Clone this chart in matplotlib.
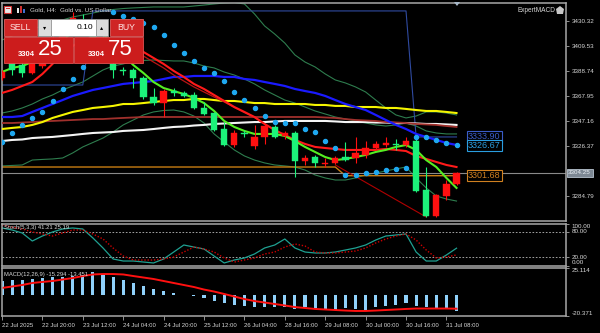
import matplotlib
matplotlib.use("Agg")
import matplotlib.pyplot as plt
from matplotlib.patches import Rectangle, Polygon
from matplotlib.transforms import blended_transform_factory

plt.rcParams['font.family'] = ['Liberation Sans', 'DejaVu Sans']

opens = [3382.9, 3396.2, 3393.7, 3387.1, 3392.9, 3406.2, 3416.2, 3427.0, 3431.2, 3424.5,
         3414.5, 3394.5, 3389.6, 3389.6, 3382.9, 3367.1, 3362.1, 3372.1, 3370.4, 3368.8,
         3357.9, 3353.8, 3340.5, 3327.2, 3337.1, 3326.4, 3333.8, 3342.1, 3334.6, 3337.1,
         3313.9, 3317.2, 3311.8, 3312.2, 3317.2, 3316.3, 3318.8, 3324.7, 3327.2, 3328.4,
         3327.2, 3330.5, 3289.7, 3268.1, 3284.7, 3294.7]
closes = [3387.9, 3389.6, 3387.1, 3397.9, 3406.2, 3416.2, 3427.0, 3432.8, 3424.5, 3414.5,
          3397.9, 3389.6, 3389.1, 3382.9, 3367.1, 3362.1, 3372.1, 3370.4, 3367.9, 3357.9,
          3353.0, 3339.6, 3327.2, 3337.1, 3336.3, 3333.8, 3343.0, 3333.8, 3337.1, 3313.9,
          3316.3, 3312.2, 3312.6, 3316.3, 3314.7, 3320.5, 3324.7, 3328.0, 3328.8, 3327.6,
          3330.5, 3288.9, 3268.1, 3285.6, 3294.7, 3304.25]
highs = [3389.6, 3399.5, 3397.9, 3402.0, 3410.4, 3418.7, 3431.2, 3437.8, 3436.1, 3429.5,
         3418.7, 3397.9, 3392.1, 3391.2, 3384.6, 3374.6, 3373.7, 3374.6, 3372.1, 3371.3,
         3362.9, 3354.6, 3346.3, 3339.6, 3339.6, 3343.8, 3344.6, 3343.8, 3338.8, 3338.8,
         3318.8, 3318.8, 3316.3, 3318.0, 3329.7, 3333.8, 3330.5, 3330.5, 3333.8, 3332.2,
         3333.8, 3333.8, 3308.9, 3286.4, 3298.0, 3304.7]
lows = [3381.2, 3385.4, 3383.7, 3386.2, 3391.2, 3404.5, 3412.9, 3422.8, 3421.2, 3410.4,
        3396.2, 3382.9, 3385.4, 3374.6, 3365.4, 3360.4, 3350.5, 3367.9, 3367.1, 3357.1,
        3352.1, 3338.8, 3326.3, 3325.5, 3333.8, 3323.8, 3328.0, 3333.0, 3332.2, 3300.5,
        3310.5, 3308.9, 3308.9, 3311.4, 3313.9, 3312.2, 3316.3, 3323.0, 3325.5, 3323.0,
        3325.5, 3288.1, 3267.3, 3267.3, 3281.4, 3293.9]

# moyennes mobiles
ma_fast = [3387.9, 3391.3, 3392.9, 3396.2, 3401.2, 3407.9, 3414.5, 3421.2, 3424.5, 3424.5,
           3419.5, 3410.4, 3402.1, 3393.7, 3387.1, 3379.6, 3374.6, 3372.1, 3369.6, 3366.3,
           3362.1, 3355.5, 3347.2, 3342.2, 3338.9, 3336.4, 3336.4, 3336.4, 3334.7, 3330.5,
           3325.6, 3321.4, 3317.2, 3314.7, 3315.6, 3317.2, 3318.9, 3321.4, 3323.1, 3325.6,
           3327.2, 3323.1, 3314.7, 3308.9, 3299.8, 3291.5]
ma_red = [3370.5, 3373.0, 3376.3, 3379.6, 3386.3, 3394.6, 3402.9, 3409.5, 3414.5, 3416.2,
          3416.2, 3414.5, 3412.0, 3408.7, 3404.6, 3399.6, 3394.6, 3388.8, 3383.8, 3378.0,
          3373.8, 3368.8, 3363.8, 3358.8, 3354.7, 3350.5, 3344.7, 3339.7, 3335.5, 3331.4,
          3328.1, 3325.6, 3324.7, 3323.9, 3323.1, 3323.1, 3323.1, 3323.1, 3323.9, 3323.1,
          3322.2, 3318.1, 3315.6, 3313.1, 3310.6, 3308.9]
ma_red2 = [3415.4, 3414.5, 3412.0, 3408.7, 3405.4, 3401.2, 3396.2, 3391.3, 3385.4, 3380.4,
           3375.5, 3371.3, 3367.1, 3363.0, 3358.4, 3354.2, 3350.1, 3344.7]  # barres 9 a 26
ma_blue = [3350.5, 3350.5, 3351.3, 3354.7, 3358.0, 3361.3, 3364.6, 3368.0, 3370.5, 3373.0,
           3374.6, 3376.3, 3378.0, 3378.8, 3379.6, 3380.4, 3382.1, 3383.8, 3383.8, 3384.6,
           3384.6, 3384.6, 3383.8, 3383.8, 3382.1, 3381.3, 3379.6, 3378.0, 3376.3, 3373.8,
           3372.1, 3370.5, 3368.0, 3364.6, 3361.3, 3358.8, 3356.3, 3352.2, 3348.0, 3343.9,
           3340.5, 3336.4, 3333.9, 3331.4, 3328.9, 3327.2]
ma_yellow = [3340.5, 3341.4, 3342.2, 3343.9, 3346.3, 3349.7, 3352.2, 3354.7, 3356.3, 3358.0,
             3358.8, 3359.7, 3361.3, 3361.3, 3362.1, 3363.0, 3363.8, 3364.6, 3364.6, 3365.5,
             3365.5, 3364.6, 3363.8, 3363.8, 3363.0, 3362.1, 3362.1, 3361.3, 3361.3, 3361.3,
             3361.3, 3360.5, 3360.5, 3359.7, 3359.7, 3358.8, 3358.8, 3358.8, 3358.0, 3358.0,
             3357.2, 3356.3, 3355.5, 3355.5, 3354.7, 3353.8]
ma_brown = [3345.5, 3345.5, 3345.9, 3346.3, 3346.8, 3347.2, 3347.6, 3348.0, 3348.4, 3348.8,
            3348.8, 3349.3, 3349.7, 3350.1, 3350.5, 3350.5, 3350.5, 3350.5, 3350.5, 3350.5,
            3350.5, 3350.5, 3350.5, 3350.5, 3350.5, 3350.5, 3350.5, 3350.5, 3350.5, 3350.5,
            3350.5, 3350.5, 3350.1, 3349.7, 3348.8, 3348.0, 3347.6, 3347.2, 3346.3, 3345.9,
            3345.5, 3344.7, 3344.3, 3343.9, 3343.0, 3342.2]
ma_white = [3330.5, 3331.4, 3331.8, 3333.0, 3333.5, 3333.9, 3334.7, 3335.5, 3336.4, 3337.2,
            3337.6, 3338.0, 3338.9, 3339.3, 3339.7, 3340.5, 3341.4, 3342.2, 3342.6, 3343.4,
            3343.9, 3344.7, 3345.1, 3345.5, 3345.9, 3346.3, 3346.3, 3346.8, 3347.2, 3347.2,
            3347.2, 3347.2, 3347.2, 3346.8, 3346.3, 3346.3, 3346.3, 3345.9, 3345.9, 3345.5,
            3345.5, 3345.1, 3344.7, 3344.7, 3344.3, 3343.9]

# enveloppes vert fonce
band_up = [3414.5, 3417.9, 3421.2, 3423.7, 3426.2, 3428.7, 3431.2, 3433.7, 3435.3, 3437.0,
           3438.7, 3439.9, 3440.7, 3441.2, 3441.6, 3442.0, 3442.0, 3442.0, 3442.0, 3442.8,
           3443.6, 3444.5, 3445.3, 3445.7, 3444.5, 3436.2, 3426.2, 3419.5, 3412.0, 3402.1,
           3396.2, 3392.1, 3386.3, 3381.3, 3378.8, 3375.5, 3371.3, 3364.6, 3358.0, 3352.2,
           3349.7, 3351.3, 3354.7, 3354.7, 3353.8, 3352.2]
band_mid = [3353.8, 3355.5, 3358.0, 3361.3, 3365.5, 3368.8, 3373.0, 3376.3, 3379.6, 3384.6,
            3389.6, 3392.9, 3394.6, 3397.1, 3397.5, 3397.9, 3397.5, 3397.1, 3397.1, 3395.4,
            3392.9, 3391.3, 3387.9, 3385.4, 3382.1, 3378.0, 3373.0, 3368.8, 3364.6, 3362.1,
            3358.8, 3355.5, 3353.0, 3350.5, 3348.8, 3347.2, 3345.5, 3343.9, 3343.0, 3343.9,
            3345.5, 3343.0, 3338.9, 3337.2, 3336.4, 3336.4]
band_low = [3309.8, 3310.2, 3310.6, 3314.7, 3315.2, 3315.6, 3316.4, 3320.6, 3325.6, 3329.3,
            3333.0, 3338.0, 3343.9, 3348.0, 3352.2, 3354.7, 3355.9, 3356.3, 3354.7, 3351.3,
            3345.5, 3336.4, 3329.7, 3323.1, 3318.1, 3314.7, 3312.3, 3310.6, 3309.8, 3308.9,
            3306.4, 3302.3, 3299.8, 3298.1, 3298.1, 3299.8, 3302.3, 3303.9, 3305.6, 3307.3,
            3308.9, 3299.8, 3291.5, 3284.8, 3282.3, 3280.6]

# canal plus haut (bleu nuit), niveau orange, zigzag
channel = [3377.1] * 9 + [3438.7] * 32 + [3333.9] * 5
level_orange = [3308.9] * 34 + [3301.68] * 12
zigzag_x = [33, 42]
zigzag_y = [3310.6, 3267.3]

# Parabolic SAR
sar = [3329.6, 3337.1, 3343.8, 3349.6, 3354.6, 3363.8, 3373.7, 3382.5, 3392.0, 3399.5,
       3406.2, 3437.8, 3434.5, 3432.0, 3428.7, 3425.3, 3418.7, 3410.4, 3403.7, 3397.0,
       3391.2, 3387.1, 3380.4, 3371.3, 3364.6, 3357.9, 3351.3, 3346.3, 3345.5, 3345.5,
       3340.5, 3338.0, 3330.5, 3324.6, 3302.2, 3302.2, 3303.9, 3304.7, 3306.4, 3307.2,
       3308.0, 3333.8, 3333.8, 3331.7, 3328.8, 3327.1]

# Stochastique (5,3,3)
stoch_main = [89.3, 84.5, 77.4, 58.3, 70.2, 79.8, 86.9, 89.3, 86.9, 65.5,
              41.7, 15.5, 10.7, 10.7, 8.3, 6.0, 15.5, 32.1, 48.8, 44.0,
              39.3, 22.6, 6.0, 13.1, 17.9, 27.4, 41.7, 48.8, 63.1, 41.7,
              32.1, 29.8, 29.8, 32.1, 36.9, 41.7, 48.8, 60.7, 70.2, 72.6,
              75.0, 32.1, 10.7, 10.7, 25.0, 41.21]
stoch_signal = [96.4, 91.7, 86.9, 79.8, 75.0, 70.2, 77.4, 84.5, 84.5, 75.0,
                63.1, 41.7, 22.6, 13.1, 13.1, 13.1, 15.5, 20.2, 32.1, 44.0,
                39.3, 32.1, 17.9, 8.3, 13.1, 17.9, 27.4, 32.1, 44.0, 51.2,
                46.4, 32.1, 29.8, 29.8, 32.1, 34.5, 41.7, 53.6, 63.1, 70.2,
                75.0, 60.7, 36.9, 17.9, 20.2, 25.19]

# MACD (12,26,9)
macd_hist = [13.0, 13.7, 13.7, 14.4, 15.4, 16.3, 16.9, 17.5, 18.5, 21.3,
             18.5, 16.3, 13.7, 11.2, 8.1, 5.2, 3.3, 1.7, -0.3, -1.1,
             -3.6, -5.9, -8.3, -10.0, -10.9, -11.6, -12.1, -12.1, -12.1, -14.0,
             -12.1, -13.1, -14.7, -14.7, -13.1, -14.0, -14.7, -12.1, -10.9, -10.0,
             -8.3, -10.9, -12.1, -14.0, -14.0, -15.294]
macd_signal = [6.2, 7.6, 9.0, 10.9, 11.9, 12.8, 14.2, 15.6, 17.5, 19.0,
               19.4, 19.4, 19.0, 17.5, 16.1, 14.7, 12.8, 10.9, 9.0, 7.1,
               4.7, 2.8, 0.5, -1.9, -4.3, -6.2, -7.6, -9.0, -10.4, -11.9,
               -12.8, -13.7, -14.2, -14.7, -15.2, -15.6, -15.6, -15.2, -14.7, -14.2,
               -13.7, -13.3, -13.3, -13.3, -13.3, -13.451]

price_ticks = [3430.32, 3409.53, 3388.74, 3367.95, 3347.16, 3326.37, 3284.79]
date_ticks = [0, 4, 8, 12, 16, 20, 24, 28, 32, 36, 40, 44]
date_labels = ['22 Jul 2025', '22 Jul 20:00', '23 Jul 12:00', '24 Jul 04:00', '24 Jul 20:00',
               '25 Jul 12:00', '26 Jul 04:00', '28 Jul 16:00', '29 Jul 08:00', '30 Jul 00:00',
               '30 Jul 16:00', '31 Jul 08:00']
bid_ask = [3304.25, 3304.75]
lot = 0.10
line_labels = [3333.90, 3326.67, 3301.68]

BG = 'black'
GRID = '#a8a8a8'
TXT = '#d8d8d8'
N = len(opens)
xs = list(range(N))
XMAX = 55.84

fig = plt.figure(figsize=(6, 3.33), dpi=100, facecolor=BG)
ax = fig.add_axes([2/600, 112/333, 564/600, 218/333], facecolor=BG)
ax_st = fig.add_axes([2/600, 67.5/333, 564/600, 42/333], facecolor=BG, sharex=ax)
ax_m = fig.add_axes([2/600, 17/333, 564/600, 48/333], facecolor=BG, sharex=ax)

for a in (ax, ax_st, ax_m):
    for s in a.spines.values():
        s.set_color(GRID)
        s.set_linewidth(1.1)
    a.yaxis.tick_right()
    a.tick_params(axis='y', colors=GRID, labelcolor=TXT, labelsize=4.5, length=2.5, width=0.6, pad=1.5)
    a.tick_params(axis='x', length=0, labelbottom=False)
ax.set_xlim(0, XMAX)

# --- fenetre principale ---
ax.set_ylim(3264.0, 3445.3)
ax.set_yticks(price_ticks)
ax.set_yticklabels(['%.2f' % p for p in price_ticks])

ax.plot(xs, band_up, color='#2e7d4e', lw=0.8, zorder=2)
ax.plot(xs, band_mid, color='#2e7d4e', lw=0.8, zorder=2)
ax.plot(xs, band_low, color='#2e7d4e', lw=0.8, zorder=2)
ax.plot(xs, channel, color='#2f4aa0', lw=0.8, zorder=2)
ax.plot(xs, level_orange, color='#c87d12', lw=1.0, zorder=2)
ax.axhline(bid_ask[0], color='#8a8a8a', lw=0.8, zorder=2)
ax.plot(xs, ma_white, color='#f4f4f4', lw=1.5, zorder=3)
ax.plot(xs, ma_brown, color='#a0302c', lw=1.3, zorder=3)
ax.plot(xs, ma_yellow, color='#f5f500', lw=1.5, zorder=3)
ax.plot(xs, ma_blue, color='#1a1aff', lw=1.6, zorder=3)
ax.plot(xs[9:27], ma_red2, color='#b81414', lw=0.9, zorder=3)
ax.plot(xs, ma_red, color='#ff1a1a', lw=1.5, zorder=3)
ax.plot(zigzag_x, zigzag_y, color='#b00000', lw=0.8, zorder=3)
ax.plot(xs, ma_fast, color='#55ee22', lw=1.5, zorder=3)

for i in xs:
    up = closes[i] >= opens[i]
    col = '#ff1010' if up else '#1cf27a'
    ax.vlines(i, lows[i], highs[i], color=col, lw=0.8, zorder=4)
    bot = min(opens[i], closes[i])
    h = max(abs(closes[i] - opens[i]), 0.5)
    ax.add_patch(Rectangle((i - 0.31, bot), 0.62, h, facecolor=col, edgecolor=col, lw=0.3, zorder=5))

ax.plot(xs, sar, ls='none', marker='o', ms=2.9, mfc='#1fa8f0', mec='#1fa8f0', zorder=6)

# etiquettes des lignes a droite des bougies
lab_cols = ['#3a5cc8', '#2a9ee0', '#d08020']
for v, c in zip(line_labels, lab_cols):
    ax.text(46.15, v, '%.2f' % v, color=c, fontsize=6.5, ha='left', va='center', zorder=7,
            bbox=dict(boxstyle='square,pad=0.12', fc=BG, ec=c, lw=0.8))

trans = blended_transform_factory(ax.transAxes, ax.transData)
ax.text(1.004, bid_ask[0], '%.2f' % bid_ask[0], transform=trans, color='#eef3f8', fontsize=4.5,
        ha='left', va='center', clip_on=False,
        bbox=dict(boxstyle='square,pad=0.25', fc='#7d8894', ec='#b8c4d0', lw=0.6))

# --- stochastique ---
ax_st.set_ylim(0, 100)
ax_st.axhline(80, color='#bbbbbb', lw=0.6, ls=(0, (2, 2)))
ax_st.axhline(20, color='#bbbbbb', lw=0.6, ls=(0, (2, 2)))
ax_st.plot(xs, stoch_main, color='#1fa192', lw=0.9)
ax_st.plot(xs, stoch_signal, color='#cc0000', lw=1.0, ls=(0, (1, 1.3)))
ax_st.set_yticks([100, 80, 20, 0])
ax_st.set_yticklabels(['100.00', '80.00', '20.00', '0.00'])
for lbl, va in zip(ax_st.get_yticklabels(), ['top', 'center', 'center', 'bottom']):
    lbl.set_va(va)
ax_st.text(0.004, 0.9, 'Stoch(5,3,3) %.2f %.2f' % (stoch_main[-1], stoch_signal[-1]),
           transform=ax_st.transAxes, color=TXT, fontsize=4.2, va='center', ha='left')

# --- MACD ---
ax_m.set_ylim(-20.371, 25.114)
ax_m.bar(xs, macd_hist, width=0.3, color='#8fd0fa')
ax_m.plot(xs, macd_signal, color='#ff1010', lw=1.4)
ax_m.set_yticks([25.114, -20.371])
ax_m.set_yticklabels(['25.114', '-20.371'])
for lbl, va in zip(ax_m.get_yticklabels(), ['top', 'bottom']):
    lbl.set_va(va)
ax_m.text(0.003, 0.86, 'MACD(12,26,9) %.3f %.3f' % (macd_hist[-1], macd_signal[-1]),
          transform=ax_m.transAxes, color=TXT, fontsize=4.2, va='center', ha='left')

ax_m.set_xticks(date_ticks)
ax_m.set_xticklabels(date_labels)
ax_m.tick_params(axis='x', labelbottom=True, length=3, color=GRID, width=0.6,
                 labelsize=4.3, labelcolor=TXT, pad=2)
for lbl in ax_m.get_xticklabels():
    lbl.set_ha('left')

# --- surcouche: en-tete et panneau de trading (coordonnees pixel) ---
ov = fig.add_axes([0, 0, 1, 1])
ov.set_xlim(0, 600)
ov.set_ylim(333, 0)
ov.axis('off')
ov.patch.set_alpha(0)
ov.set_zorder(10)

ov.add_patch(Rectangle((4, 6), 7, 7, fc='#e8e8e8', ec='#d03030', lw=0.8))
ov.add_patch(Rectangle((5.5, 7.5), 4, 1.5, fc='#d03030', lw=0))
ov.add_patch(Rectangle((17, 8), 2, 5, fc='#e8e8e8', lw=0))
ov.add_patch(Rectangle((20, 6), 2, 7, fc='#d03030', lw=0))
ov.add_patch(Rectangle((23, 9), 2, 4, fc='#4070d0', lw=0))
ov.text(30, 10, 'Gold, H4:  Gold vs. US Dollar', color=TXT, fontsize=4.5, va='center', ha='left')
ov.text(517, 10, 'ExpertMACD', color=TXT, fontsize=4.7, va='center', ha='left')
ov.add_patch(Polygon([(556, 9), (560, 6), (564, 9), (563, 14), (557, 14)], fc='#c8c8c8', lw=0))
ov.add_patch(Polygon([(454, 2), (460, 2), (457, 6)], fc='#a8b8c8', lw=0))

red_btn = '#cf2525'
ov.add_patch(Rectangle((4, 19), 33, 17, fc=red_btn, ec='#e06060', lw=0.6))
ov.text(20.5, 27.5, 'SELL', color='#ffe4e4', fontsize=6.3, ha='center', va='center')
ov.add_patch(Rectangle((110, 19), 33, 17, fc=red_btn, ec='#e06060', lw=0.6))
ov.text(126.5, 27.5, 'BUY', color='#ffe4e4', fontsize=6.3, ha='center', va='center')
ov.add_patch(Rectangle((38, 19), 13, 17, fc='#dcdcdc', ec='#9a9a9a', lw=0.6))
ov.add_patch(Rectangle((51, 19), 45, 17, fc='white', ec='#9a9a9a', lw=0.6))
ov.add_patch(Rectangle((96, 19), 12, 17, fc='#dcdcdc', ec='#9a9a9a', lw=0.6))
ov.text(44.5, 27.5, '▾', color='black', fontsize=4.5, ha='center', va='center')
ov.text(102, 27.5, '▴', color='black', fontsize=4.5, ha='center', va='center')
ov.text(93, 27.5, '%.2f' % lot, color='black', fontsize=6, ha='right', va='center')

for x0, p in zip([4, 74], bid_ask):
    s = '%.2f' % p
    ov.add_patch(Rectangle((x0, 37), 69, 26, fc='#cc1c1c', ec='#e05050', lw=0.6))
    ov.text(x0 + 31, 55, s[:4], color='white', fontsize=5.5, fontweight='bold', ha='right', va='center')
    ov.text(x0 + 34, 49.5, s[-2:], color='white', fontsize=16, ha='left', va='center')

fig.savefig('out.png', dpi=100, facecolor=BG)
